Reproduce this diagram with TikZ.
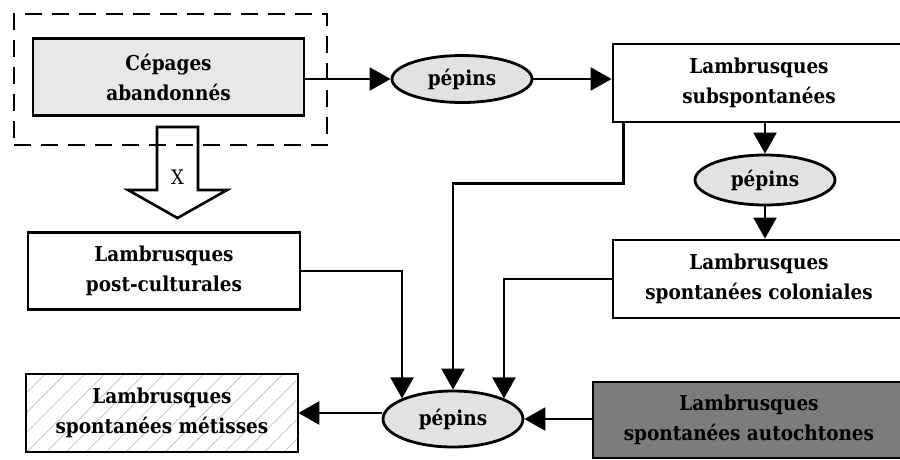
\documentclass[tikz,border=0pt]{standalone}
\usepackage{fontspec}
\setmainfont{DejaVu Serif Condensed}
\usetikzlibrary{arrows.meta,shapes.geometric,patterns.meta}
\definecolor{seedfill}{HTML}{E2E2E2}
\definecolor{cepfill}{HTML}{E8E8E8}
\definecolor{darkfill}{HTML}{7C7C7C}
\definecolor{hatchgray}{HTML}{BDBDBD}
\tikzset{
  box/.style={draw, line width=2.8pt, rectangle, align=center,
    font=\fontsize{20.5}{30}\selectfont\bfseries, inner sep=0pt},
  seed/.style={draw, line width=2.8pt, ellipse, fill=seedfill, inner sep=0pt,
    font=\fontsize{20.5}{30}\selectfont\bfseries},
  arr/.style={line width=2.4pt, -{Triangle[length=21pt,width=23pt]}},
}
\begin{document}
\begin{tikzpicture}[x=1pt,y=-1pt]
\useasboundingbox (0,0) rectangle (900,459);

% hollow arrow leaving the abandoned varieties group
\draw[line width=2.6pt, fill=white, line join=miter]
  (157,127) -- (198,127) -- (198,190) -- (227,190) -- (177.5,218)
  -- (128,190) -- (157,190) -- cycle;
\node[font=\fontsize{20}{22}\selectfont] (x) at (177.5,177) {X};

% dashed group around the abandoned varieties
\node[draw, line width=2.8pt, dash pattern=on 17pt off 10pt,
  minimum width=313, minimum height=131, inner sep=0pt] (grp) at (170.5,79.5) {};

% boxes
\node[box, fill=cepfill, minimum width=271, minimum height=77] (cep) at (168.5,77)
  {Cépages\\abandonnés};
\node[box, fill=white, minimum width=292, minimum height=78] (sub) at (759,83)
  {Lambrusques\\subspontanées};
\node[box, fill=white, minimum width=292, minimum height=78] (col) at (759,279)
  {Lambrusques\\spontanées coloniales};
\node[box, fill=white, minimum width=272, minimum height=77] (post) at (164,271)
  {Lambrusques\\post-culturales};
\node[box, pattern={Lines[angle=45,distance=14pt,line width=0.7pt]},
  pattern color=hatchgray, minimum width=272, minimum height=78] (met) at (162,413) {};
\node[box, minimum width=272, minimum height=78] (mettxt) at (162,413)
  {Lambrusques\\spontanées métisses};
\node[box, fill=darkfill, minimum width=312, minimum height=76] (aut) at (749,420)
  {Lambrusques\\spontanées autochtones};

% seed stages
\node[seed, minimum width=140, minimum height=47] (p1) at (462,79) {pépins};
\node[seed, minimum width=140, minimum height=50] (p2) at (765,180) {pépins};
\node[seed, minimum width=140, minimum height=56] (p3) at (453,419) {pépins};

% connectors
\draw[arr] (cep.east |- p1.west) -- (p1.west);
\draw[arr] (p1.east) -- (p1.east -| sub.west);
\draw[arr] (sub.south -| p2.north) -- (p2.north);
\draw[arr] (p2.south) -- (p2.south |- col.north);
\draw[arr] ([xshift=12pt]sub.south west) -- ++(0,60) -| (p3.north);
\draw[arr] (post.east) -| (p3.158);
\draw[arr] (col.west) -| (p3.22);
\draw[arr] (aut.west |- p3.east) -- (p3.east);
\draw[arr] (p3.west |- met.east) -- (met.east);
\end{tikzpicture}
\end{document}
